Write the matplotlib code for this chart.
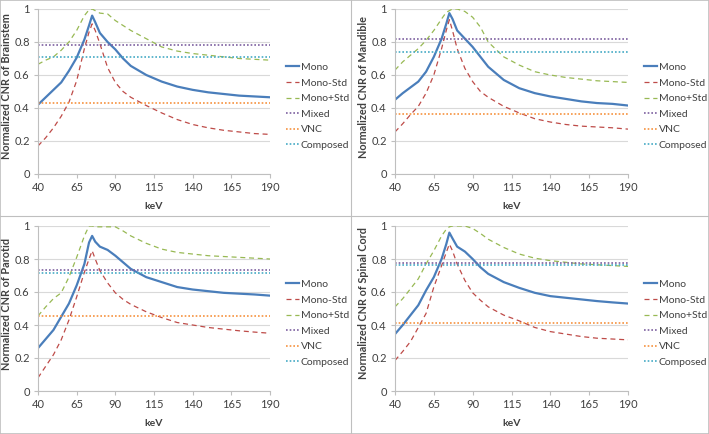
import matplotlib
matplotlib.use("Agg")
import matplotlib.pyplot as plt
from matplotlib.lines import Line2D
from matplotlib.patches import Rectangle

plt.rcParams["font.family"] = ["Lato", "DejaVu Sans"]

KEV = [40, 45, 50, 55, 60, 65, 70, 73, 75, 77, 80, 85, 90, 95, 100,
       110, 120, 130, 140, 150, 160, 170, 180, 190]

SERIES = ["Mono", "Mono-Std", "Mono+Std", "Mixed", "VNC", "Composed"]

# Brainstem
brainstem_mono = [0.42, 0.465, 0.51, 0.555, 0.625, 0.705, 0.815, 0.90, 0.96, 0.92,
                  0.855, 0.80, 0.755, 0.70, 0.655, 0.60, 0.56, 0.53, 0.51, 0.495,
                  0.485, 0.475, 0.47, 0.465]
brainstem_minus = [0.17, 0.22, 0.28, 0.35, 0.435, 0.565, 0.76, 0.86, 0.91, 0.87,
                   0.79, 0.645, 0.555, 0.50, 0.465, 0.415, 0.37, 0.33, 0.30, 0.28,
                   0.265, 0.255, 0.245, 0.24]
brainstem_plus = [0.665, 0.69, 0.71, 0.75, 0.80, 0.87, 0.96, 0.995, 1.0, 0.99,
                  0.975, 0.97, 0.93, 0.90, 0.87, 0.82, 0.77, 0.745, 0.73, 0.72,
                  0.71, 0.70, 0.695, 0.69]
brainstem_flat = [0.782, 0.428, 0.709]  # Mixed, VNC, Composed

# Mandible
mandible_mono = [0.45, 0.49, 0.525, 0.56, 0.62, 0.71, 0.82, 0.91, 0.975, 0.94,
                 0.87, 0.82, 0.77, 0.71, 0.65, 0.57, 0.52, 0.49, 0.47, 0.455,
                 0.44, 0.43, 0.425, 0.415]
mandible_minus = [0.255, 0.305, 0.36, 0.41, 0.49, 0.60, 0.76, 0.87, 0.935, 0.87,
                  0.76, 0.64, 0.56, 0.50, 0.465, 0.41, 0.37, 0.335, 0.315, 0.30,
                  0.29, 0.285, 0.28, 0.272]
mandible_plus = [0.63, 0.68, 0.72, 0.76, 0.81, 0.87, 0.94, 0.98, 0.99, 1.0,
                 1.0, 0.985, 0.95, 0.89, 0.80, 0.71, 0.66, 0.62, 0.60, 0.585,
                 0.575, 0.565, 0.56, 0.555]
mandible_flat = [0.816, 0.362, 0.737]

# Parotid
parotid_mono = [0.26, 0.315, 0.37, 0.45, 0.53, 0.64, 0.77, 0.90, 0.94, 0.905,
                0.875, 0.855, 0.82, 0.78, 0.74, 0.69, 0.66, 0.63, 0.615, 0.605,
                0.595, 0.59, 0.585, 0.578]
parotid_minus = [0.08, 0.15, 0.22, 0.31, 0.43, 0.57, 0.72, 0.80, 0.85, 0.80,
                 0.73, 0.655, 0.595, 0.555, 0.525, 0.48, 0.445, 0.415, 0.40, 0.385,
                 0.375, 0.365, 0.357, 0.35]
parotid_plus = [0.455, 0.51, 0.56, 0.595, 0.69, 0.81, 0.94, 1.0, 1.0, 0.995,
                0.995, 0.995, 0.995, 0.97, 0.94, 0.895, 0.86, 0.84, 0.83, 0.82,
                0.815, 0.81, 0.805, 0.80]
parotid_flat = [0.731, 0.455, 0.717]

# Spinal cord
spinal_mono = [0.345, 0.40, 0.46, 0.52, 0.61, 0.69, 0.80, 0.89, 0.96, 0.925,
               0.875, 0.845, 0.80, 0.75, 0.71, 0.66, 0.625, 0.595, 0.575, 0.565,
               0.555, 0.545, 0.537, 0.53]
spinal_minus = [0.185, 0.24, 0.30, 0.385, 0.47, 0.63, 0.76, 0.84, 0.89, 0.85,
                0.77, 0.67, 0.595, 0.55, 0.51, 0.46, 0.425, 0.385, 0.36, 0.345,
                0.33, 0.32, 0.315, 0.31]
spinal_plus = [0.51, 0.56, 0.62, 0.68, 0.77, 0.85, 0.94, 0.98, 0.995, 1.0,
               1.0, 1.0, 0.985, 0.955, 0.92, 0.87, 0.83, 0.805, 0.79, 0.78,
               0.77, 0.765, 0.76, 0.755]
spinal_flat = [0.776, 0.415, 0.761]

PANELS = [
    ("Brainstem", brainstem_mono, brainstem_minus, brainstem_plus, brainstem_flat),
    ("Mandible", mandible_mono, mandible_minus, mandible_plus, mandible_flat),
    ("Parotid", parotid_mono, parotid_minus, parotid_plus, parotid_flat),
    ("Spinal Cord", spinal_mono, spinal_minus, spinal_plus, spinal_flat),
]

COLORS = ["#4A7EBB", "#BE4B48", "#98B954", "#7D60A0", "#F69240", "#46AAC5"]

W, H = 709, 434
# axes boxes in pixels: (left, top, right, bottom)
BOXES = [(38, 9, 270, 174), (395, 9, 628, 174),
         (38, 226, 270, 391), (395, 226, 628, 391)]

fig = plt.figure(figsize=(W / 100, H / 100), dpi=100)

for (name, mono, minus, plus, flat), (l, t, r, b) in zip(PANELS, BOXES):
    ax = fig.add_axes([l / W, 1 - b / H, (r - l) / W, (b - t) / H])
    ax.plot(KEV, mono, color=COLORS[0], lw=1.6, label=SERIES[0])
    ax.plot(KEV, minus, color=COLORS[1], lw=0.9, ls=(0, (4, 3)), label=SERIES[1])
    ax.plot(KEV, plus, color=COLORS[2], lw=0.9, ls=(0, (4, 3)), label=SERIES[2])
    for val, lab, col in zip(flat, SERIES[3:], COLORS[3:]):
        ax.plot([KEV[0], KEV[-1]], [val, val], color=col, lw=1.2,
                ls=(0, (1, 1.2)), label=lab)

    ax.set_xlim(40, 190)
    ax.set_ylim(0, 1)
    ax.set_xticks(range(40, 191, 25))
    ax.set_yticks([0, 0.2, 0.4, 0.6, 0.8, 1])
    ax.set_yticklabels(["0", "0.2", "0.4", "0.6", "0.8", "1"])
    ax.grid(axis="y", color="#D9D9D9", lw=0.8)
    ax.set_axisbelow(True)
    for side in ("top", "right"):
        ax.spines[side].set_visible(False)
    for side in ("left", "bottom"):
        ax.spines[side].set_color("#BFBFBF")
        ax.spines[side].set_linewidth(0.8)
    ax.tick_params(colors="#BFBFBF", labelcolor="#404040", labelsize=8,
                   length=3, width=0.8, pad=3)
    ax.set_xlabel("keV", fontsize=7.5, fontweight="bold", color="#404040",
                  labelpad=6)
    ax.set_ylabel(f"Normalized CNR of {name}", fontsize=7.8, fontweight="bold",
                  color="#404040")
    ax.yaxis.set_label_coords(-26 / (r - l), 0.53)
    ax.legend(loc="center left", bbox_to_anchor=(1.05, 0.41), frameon=False,
              fontsize=7.5, handlelength=1.3, handletextpad=0.15,
              labelspacing=0.6, borderaxespad=0, labelcolor="#404040")

# panel dividers and outer frame
fig.add_artist(Line2D([351 / W, 351 / W], [0, 1], color="#BFBFBF", lw=0.8))
fig.add_artist(Line2D([0, 1], [1 - 216 / H, 1 - 216 / H], color="#BFBFBF", lw=0.8))
fig.add_artist(Rectangle((0, 0), 1, 1, fill=False, ec="#BFBFBF", lw=1.2,
                         transform=fig.transFigure))

fig.savefig("out.png", dpi=100)
